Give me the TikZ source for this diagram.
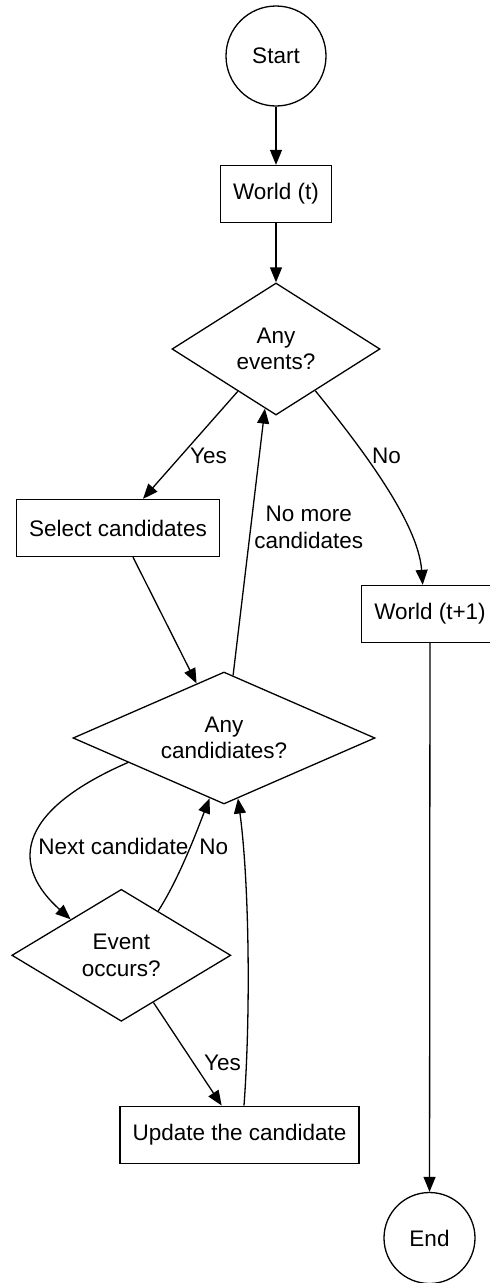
\documentclass[tikz,border=0pt]{standalone}
\usepackage{fontspec}
\setmainfont{Liberation Sans}
\usetikzlibrary{shapes.geometric,arrows.meta,calc}
\begin{document}
\begin{tikzpicture}[x=1pt,y=-1pt,
  every node/.style={font=\fontsize{22.5}{26.5}\selectfont, align=center, inner sep=0pt},
  termnode/.style={draw, circle, line width=1.3pt},
  boxnode/.style={draw, rectangle, line width=1.3pt, minimum height=57pt},
  decnode/.style={draw, diamond, line width=1.3pt, minimum height=132pt},
  conn/.style={line width=1.3pt, -{Triangle[length=15pt,width=12pt]}},
  lbl/.style={}
]
\useasboundingbox (0,0) rectangle (490,1283);

% nodes
\node[termnode, minimum size=100pt] (start) at (276,56) {Start};
\node[boxnode, minimum width=111pt] (w0) at (276,194) {World (t)};
\node[decnode, minimum width=208pt, aspect=1.576] (ev) at (276,349) {Any\\events?};
\node[boxnode, minimum width=203pt] (sel) at (118,528) {Select candidates};
\node[boxnode, minimum width=137pt] (w1) at (430,614) {World (t+1)};
\node[decnode, minimum width=302pt, aspect=2.29] (cand) at (224,738) {Any\\candidiates?};
\node[decnode, minimum width=219pt, aspect=1.66] (occ) at (121.3,955.3) {Event\\occurs?};
\node[boxnode, minimum width=239pt] (upd) at (239.5,1134.7) {Update the candidate};
\node[termnode, minimum size=91pt] (end) at (429.5,1238) {End};

% labels
\node[lbl] (lyes1) at (208.5,456) {Yes};
\node[lbl] (lno1) at (386.5,456) {No};
\node[lbl] (lnomore) at (308.7,527.5) {No more\\candidates};
\node[lbl] (lnext) at (113.5,846.5) {Next candidate};
\node[lbl] (lno2) at (213.8,846.5) {No};
\node[lbl] (lyes2) at (222.5,1063) {Yes};

% connectors
\draw[conn] (start) -- (w0);
\draw[conn] (w0) -- (ev);
\draw[conn] ($(ev.west)!0.635!(ev.south)$) -- ([xshift=25pt]sel.north);
\draw[conn] ($(ev.south)!0.375!(ev.east)$) .. controls (355,440) and (418,520) .. ([xshift=-7.3pt]w1.north);
\draw[conn] ([xshift=15pt]sel.south) -- ($(cand.north)!0.181!(cand.west)$);
\draw[conn] ($(cand.north)!0.06!(cand.east)$) -- ($(ev.south)!0.106!(ev.west)$);
\draw[conn] ($(cand.west)!0.367!(cand.south)$) .. controls (10,814) and (14,868.7) .. ($(occ.north)!0.46!(occ.west)$);
\draw[conn] ($(occ.north)!0.335!(occ.east)$) .. controls (180,877) and (198,828) .. ($(cand.south)!0.095!(cand.west)$);
\draw[conn] ($(occ.south)!0.292!(occ.east)$) -- ([xshift=-17.8pt]upd.north);
\draw[conn] ([xshift=4.5pt]upd.north) .. controls (251,1010) and (249,880) .. ($(cand.south)!0.092!(cand.east)$);
\draw[conn] (w1) -- (end);
\end{tikzpicture}
\end{document}
